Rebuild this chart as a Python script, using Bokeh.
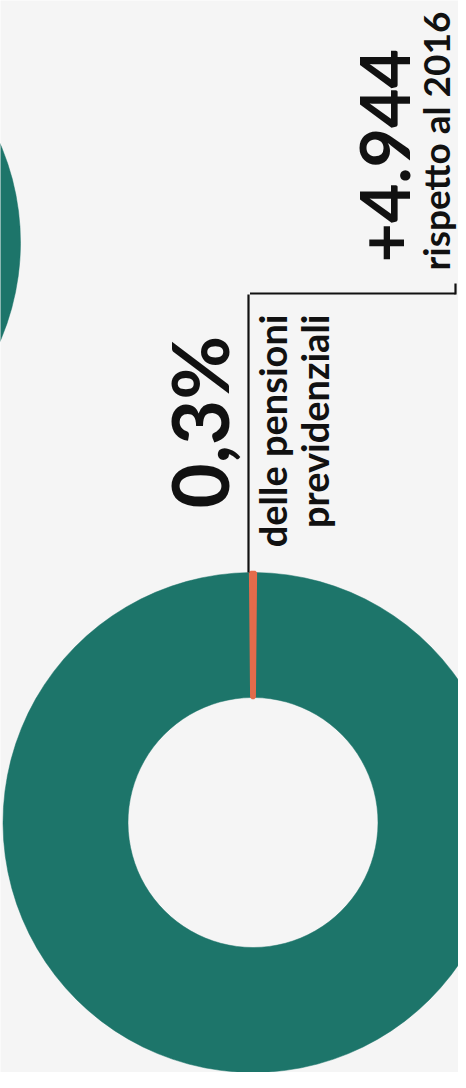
import math
from bokeh.plotting import figure
from bokeh.models import Range1d, ColumnDataSource
from bokeh.core.properties import value
from bokeh.embed import file_html
from bokeh.resources import INLINE

# ---- data ----
categories = ["altre pensioni previdenziali", "quota"]
shares = [99.7, 0.3]
colors = ["#1d756a", "#e36b4b"]
big_label = "0,3%"
sub_label_1 = "delle pensioni"
sub_label_2 = "previdenziali"
delta_label = "+4.944"
delta_sub = "rispetto al 2016"

BG = "#f5f5f5"
INK = "#111111"
W, H = 458, 1072

def Y(screen_y):
    # convert a screen y position (px from page top) to data y
    return 1088 - screen_y

p = figure(width=W, height=H, output_backend="svg", toolbar_location=None,
           x_range=Range1d(8, 8 + W), y_range=Range1d(8, 8 + H),
           min_border=0)
p.axis.visible = False
p.grid.visible = False
p.outline_line_color = None
p.background_fill_color = BG
p.border_fill_color = BG

# wedge angles: small share centred on the top, the rest clockwise after it
total = sum(shares)
small_span = shares[1] / total * 2 * math.pi
big_span = shares[0] / total * 2 * math.pi
small_start = math.pi / 2 + small_span / 2
small_end = math.pi / 2 - small_span / 2
big_end = small_end
big_start = small_end - big_span

def donut(cx, cy, r_out, r_in):
    src_big = ColumnDataSource(dict(x=[cx], y=[cy], s=[big_start], e=[big_end],
                                    color=[colors[0]], name=[categories[0]]))
    src_small = ColumnDataSource(dict(x=[cx], y=[cy], s=[small_end], e=[small_start],
                                      color=[colors[1]], name=[categories[1]]))
    p.annular_wedge(x="x", y="y", inner_radius=r_in, outer_radius=r_out,
                    start_angle="s", end_angle="e", direction="anticlock",
                    fill_color="color", line_color="color", line_width=0.5,
                    source=src_big)
    p.annular_wedge(x="x", y="y", inner_radius=r_in, outer_radius=r_out,
                    start_angle="s", end_angle="e", direction="anticlock",
                    fill_color="color", line_color="color", line_width=3.5,
                    source=src_small)

# partially visible donut, top-left
donut(-222, Y(250), 250, 125)
# main donut
donut(260.5, Y(830), 250, 125)

# leader lines
p.line(x=[256, 256], y=[Y(302), Y(580)], line_color=INK, line_width=2.2)
p.line(x=[257.5, 463], y=[Y(301), Y(301)], line_color=INK, line_width=2.2)
p.line(x=[463, 463], y=[Y(302), Y(291)], line_color=INK, line_width=2.2)

font = value("Lato")
rot = math.pi / 2

p.text(x=[206], y=[Y(516)], text=[big_label], angle=rot, text_font=font,
       text_font_style="bold", text_font_size="78px", text_color=INK,
       text_align="left", text_baseline="alphabetic")
p.text(x=[279], y=[Y(322)], text=[sub_label_1], angle=rot, text_font=font,
       text_font_style="bold", text_font_size="38px", text_color=INK,
       text_align="right", text_baseline="alphabetic")
p.text(x=[321], y=[Y(322)], text=[sub_label_2], angle=rot, text_font=font,
       text_font_style="bold", text_font_size="38px", text_color=INK,
       text_align="right", text_baseline="alphabetic")
p.text(x=[392], y=[Y(270)], text=[delta_label], angle=rot, text_font=font,
       text_font_style="bold", text_font_size="68px", text_color=INK,
       text_align="left", text_baseline="alphabetic")
p.text(x=[443], y=[Y(278)], text=[delta_sub], angle=rot, text_font=font,
       text_font_style="bold", text_font_size="37px", text_color=INK,
       text_align="left", text_baseline="alphabetic")

open("out.html", "w").write(file_html(p, INLINE))
